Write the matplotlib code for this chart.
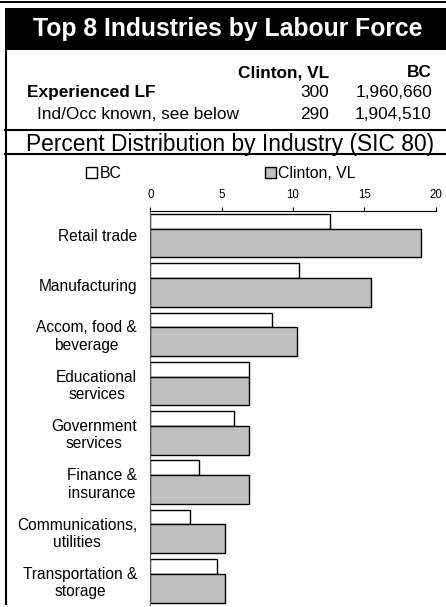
import matplotlib
matplotlib.use("Agg")
import matplotlib.pyplot as plt
from matplotlib.patches import Rectangle
from matplotlib.lines import Line2D

plt.rcParams['font.family'] = ['Liberation Sans', 'DejaVu Sans']

# ---- data ----
title = "Top 8 Industries by Labour Force"
header_cols = ["Clinton, VL", "BC"]
row_labels = ["Experienced LF", "Ind/Occ known, see below"]
clinton_counts = ["300", "290"]
bc_counts = ["1,960,660", "1,904,510"]
subtitle = "Percent Distribution by Industry (SIC 80)"
series_names = ["BC", "Clinton, VL"]
categories = ["Retail trade", "Manufacturing", "Accom, food &\nbeverage",
              "Educational\nservices", "Government\nservices", "Finance &\ninsurance",
              "Communications,\nutilities", "Transportation &\nstorage"]
bc_values = [12.6, 10.4, 8.5, 6.9, 5.9, 3.4, 2.8, 4.7]
clinton_values = [19.0, 15.5, 10.3, 6.9, 6.9, 6.9, 5.2, 5.2]
x_ticks = [0, 5, 10, 15, 20]

W, H = 446, 607
fig = plt.figure(figsize=(W / 100, H / 100), dpi=100)
fig.patch.set_facecolor('white')

def fx(px):
    return px / W

def fy(py):
    return 1 - py / H

# top rule
fig.add_artist(Line2D([0, 1], [fy(1.5), fy(1.5)], color='black', lw=1.4, transform=fig.transFigure))
# black title band
fig.add_artist(Rectangle((fx(5), fy(50)), fx(446) - fx(5), fy(8) - fy(50),
                         facecolor='black', edgecolor='none', transform=fig.transFigure))
fig.text(fx(227.5), fy(36), title, color='white', fontsize=17.8, fontweight='bold',
         ha='center', va='baseline')
# left border
fig.add_artist(Line2D([fx(6), fx(6)], [fy(50), fy(604)], color='black', lw=1.5, transform=fig.transFigure))
# separators
for yy in (130, 154):
    fig.add_artist(Line2D([fx(5), 1], [fy(yy), fy(yy)], color='black', lw=1.5, transform=fig.transFigure))

# header table
hfs = 12.4
fig.text(fx(329), fy(77.3), header_cols[0], fontsize=hfs, fontweight='bold', ha='right', va='baseline')
fig.text(fx(432), fy(77.3), header_cols[1], fontsize=hfs, fontweight='bold', ha='right', va='baseline')
fig.text(fx(27), fy(97.3), row_labels[0], fontsize=hfs, fontweight='bold', ha='left', va='baseline')
fig.text(fx(37), fy(119), row_labels[1], fontsize=hfs, ha='left', va='baseline')
for yb, c, b in zip((97.3, 119), clinton_counts, bc_counts):
    fig.text(fx(329), fy(yb), c, fontsize=hfs, ha='right', va='baseline')
    fig.text(fx(432), fy(yb), b, fontsize=hfs, ha='right', va='baseline')

fig.text(fx(230.5), fy(150.7), subtitle, fontsize=16.4, ha='center', va='baseline')

# legend
for (x0, name, fc) in ((86, series_names[0], 'white'), (265, series_names[1], '#c0c0c0')):
    fig.add_artist(Rectangle((fx(x0), fy(177.5)), fx(11), 11 / H, facecolor=fc,
                             edgecolor='black', lw=1.0, transform=fig.transFigure))
    fig.text(fx(x0 + 13.5), fy(177.5), name, fontsize=11.4, ha='left', va='baseline')

# chart axes
ax = fig.add_axes([fx(150.3), fy(605), fx(435.7) - fx(150.3), fy(210.7) - fy(605)])
n = len(categories)
idx = list(range(n))
ax.barh([i + 0.216 for i in idx], bc_values, height=0.298, color='white',
        edgecolor='black', lw=1.0)
ax.barh([i + 0.657 for i in idx], clinton_values, height=0.585, color='#c0c0c0',
        edgecolor='black', lw=1.0)
ax.set_xlim(0, 20)
ax.set_ylim(n, 0)
ax.set_xticks(x_ticks)
ax.xaxis.tick_top()
ax.tick_params(axis='x', direction='out', length=3, width=0.8, labelsize=8.3, pad=4)
ax.set_yticks([i + 0.5 for i in idx])
ax.set_yticklabels(categories, fontsize=11.2, multialignment='center', linespacing=1.2)
ax.tick_params(axis='y', length=0, pad=9.5)
for s in ('right', 'bottom'):
    ax.spines[s].set_visible(False)
ax.spines['top'].set_linewidth(0.8)
ax.spines['left'].set_linewidth(0.8)
ax.spines['left'].set_color('#555555')

fig.savefig('out.png', dpi=100)
